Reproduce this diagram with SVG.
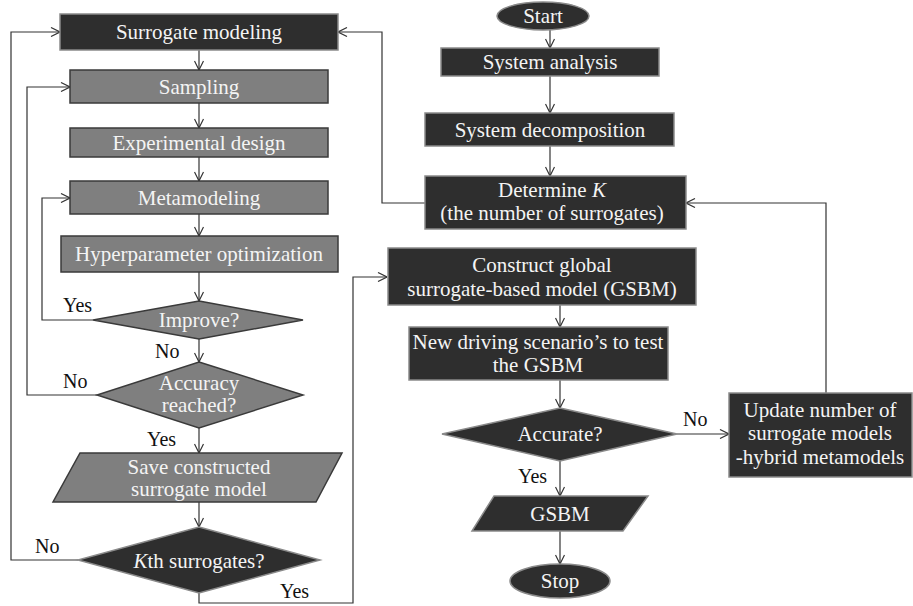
<svg xmlns="http://www.w3.org/2000/svg" width="913" height="606" viewBox="0 0 913 606">
<defs>
<marker id="ah" viewBox="0 0 10 10" refX="10" refY="5" markerWidth="10" markerHeight="10" markerUnits="userSpaceOnUse" orient="auto">
<path d="M1,0.5 L10,5 L1,9.5" fill="none" stroke="#333" stroke-width="1.2"/>
</marker>
<style>
.dk{fill:#2e2e2e;stroke:#8a8a8a;stroke-width:1.5}
.gr{fill:#7f7f7f;stroke:#3a3a3a;stroke-width:1.5}
.t{font-size:21px;fill:#f4f4f4;text-anchor:middle}
.l{font-size:20px;fill:#111}
.c{fill:none;stroke:#333;stroke-width:1.2}
</style>
</defs>
<rect width="913" height="606" fill="#fff"/>

<g id="connectors">
<path class="c" d="M199,50 V70" marker-end="url(#ah)"/>
<path class="c" d="M199,103 V128" marker-end="url(#ah)"/>
<path class="c" d="M199,157 V181" marker-end="url(#ah)"/>
<path class="c" d="M199,214 V236" marker-end="url(#ah)"/>
<path class="c" d="M199,272 V301" marker-end="url(#ah)"/>
<path class="c" d="M199,339 V362" marker-end="url(#ah)"/>
<path class="c" d="M199,428 V453" marker-end="url(#ah)"/>
<path class="c" d="M199,502 V527" marker-end="url(#ah)"/>
<path class="c" d="M93,320 H42 V198 H70" marker-end="url(#ah)"/>
<path class="c" d="M97,395 H27 V87 H70" marker-end="url(#ah)"/>
<path class="c" d="M78,560 H11 V32 H60" marker-end="url(#ah)"/>
<path class="c" d="M199,593 V603 H353 V277 H387" marker-end="url(#ah)"/>
<path class="c" d="M550,30 V48" marker-end="url(#ah)"/>
<path class="c" d="M550,76 V113" marker-end="url(#ah)"/>
<path class="c" d="M550,146 V176" marker-end="url(#ah)"/>
<path class="c" d="M425,203 H382 V32 H338" marker-end="url(#ah)"/>
<path class="c" d="M560,305 V327" marker-end="url(#ah)"/>
<path class="c" d="M560,380 V408" marker-end="url(#ah)"/>
<path class="c" d="M677,434 H729" marker-end="url(#ah)"/>
<path class="c" d="M826,393 V203 H686" marker-end="url(#ah)"/>
<path class="c" d="M560,461 V496" marker-end="url(#ah)"/>
<path class="c" d="M560,531 V564" marker-end="url(#ah)"/>
</g>

<g font-family="'Liberation Serif', 'Noto Serif', 'DejaVu Serif', serif">
<g id="labels">
<text class="l" x="63" y="312">Yes</text>
<text class="l" x="155" y="358">No</text>
<text class="l" x="63" y="388">No</text>
<text class="l" x="147" y="446">Yes</text>
<text class="l" x="35" y="553">No</text>
<text class="l" x="280" y="598">Yes</text>
<text class="l" x="683" y="426">No</text>
<text class="l" x="518" y="483">Yes</text>
</g>

<g id="surrogate-modeling"><rect class="dk" x="60" y="14" width="278" height="36"/><text class="t" x="199" y="39">Surrogate modeling</text></g>
<g id="sampling"><rect class="gr" x="70" y="70" width="258" height="33"/><text class="t" x="199" y="94">Sampling</text></g>
<g id="experimental-design"><rect class="gr" x="70" y="128" width="258" height="29"/><text class="t" x="199" y="150">Experimental design</text></g>
<g id="metamodeling"><rect class="gr" x="70" y="181" width="258" height="33"/><text class="t" x="199" y="205">Metamodeling</text></g>
<g id="hyperparameter"><rect class="gr" x="61" y="236" width="277" height="36"/><text class="t" x="199" y="261">Hyperparameter optimization</text></g>
<g id="improve"><polygon class="gr" points="199,301 303,320 199,339 93,320"/><text class="t" x="199" y="327">Improve?</text></g>
<g id="accuracy"><polygon class="gr" points="199,362 303,395 199,428 97,395"/><text class="t" x="199" y="390">Accuracy</text><text class="t" x="199" y="412">reached?</text></g>
<g id="save"><polygon class="gr" points="80,453 342,453 316,502 53,502"/><text class="t" x="199" y="474">Save constructed</text><text class="t" x="199" y="496">surrogate model</text></g>
<g id="kth"><polygon class="dk" points="199,527 320,560 199,593 78,560"/><text class="t" x="199" y="568"><tspan font-style="italic">K</tspan>th surrogates?</text></g>

<g id="start"><ellipse class="dk" cx="543" cy="16" rx="46" ry="14"/><text class="t" x="543" y="23">Start</text></g>
<g id="system-analysis"><rect class="dk" x="441" y="48" width="218" height="28"/><text class="t" x="550" y="69">System analysis</text></g>
<g id="system-decomposition"><rect class="dk" x="425" y="113" width="249" height="33"/><text class="t" x="550" y="137">System decomposition</text></g>
<g id="determine-k"><rect class="dk" x="425" y="176" width="261" height="53"/><text class="t" x="552" y="197">Determine <tspan font-style="italic">K</tspan></text><text class="t" x="552" y="220">(the number of surrogates)</text></g>
<g id="construct-gsbm"><rect class="dk" x="388" y="248" width="308" height="57"/><text class="t" x="542" y="272">Construct global</text><text class="t" x="542" y="296">surrogate-based model (GSBM)</text></g>
<g id="new-driving"><rect class="dk" x="409" y="327" width="259" height="53"/><text class="t" x="538" y="349">New driving scenario’s to test</text><text class="t" x="538" y="372">the GSBM</text></g>
<g id="accurate"><polygon class="dk" points="560,408 677,434 560,461 442,434"/><text class="t" x="560" y="441">Accurate?</text></g>
<g id="update"><rect class="dk" x="729" y="393" width="183" height="84"/><text class="t" x="820" y="417">Update number of</text><text class="t" x="820" y="440">surrogate models</text><text class="t" x="820" y="464">-hybrid metamodels</text></g>
<g id="gsbm"><polygon class="dk" points="494,496 648,496 623,531 472,531"/><text class="t" x="560" y="521">GSBM</text></g>
<g id="stop"><ellipse class="dk" cx="560" cy="581" rx="50" ry="17"/><text class="t" x="560" y="588">Stop</text></g>
</g>
</svg>
